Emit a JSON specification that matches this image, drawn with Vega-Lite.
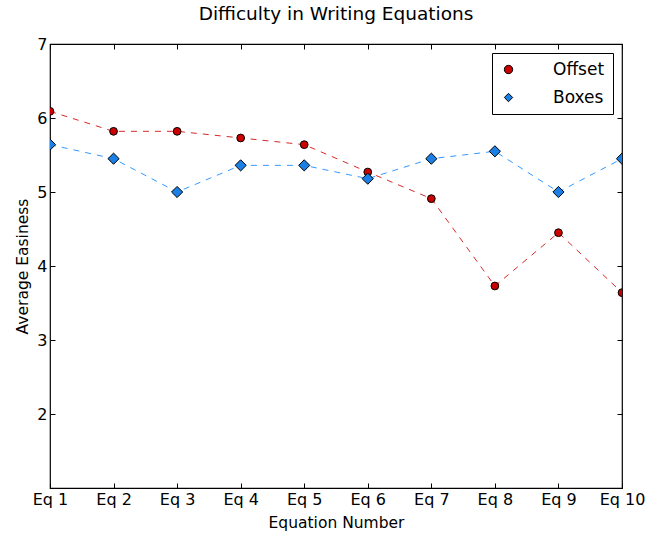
{
  "$schema": "https://vega.github.io/schema/vega-lite/v6.json",
  "width": 572,
  "height": 444,
  "autosize": "none",
  "padding": {"left": 50, "top": 44, "right": 39, "bottom": 45},
  "background": "white",
  "config": {
    "font": "DejaVu Sans",
    "view": {"stroke": "black", "strokeWidth": 1.2},
    "axis": {"grid": false, "domain": false, "tickColor": "black", "tickSize": -5, "labelColor": "black", "labelFontSize": 16, "titleFontSize": 15.5, "titleFontWeight": "normal", "titleColor": "black", "labelFont": "DejaVu Sans", "titleFont": "DejaVu Sans"}
  },
  "title": {"text": "Difficulty in Writing Equations", "fontSize": 18.5, "fontWeight": "normal", "font": "DejaVu Sans", "offset": 13, "color": "black"},
  "data": {"values": [
    {"eq": "Eq 1", "series": "Offset", "value": 6.09},
    {"eq": "Eq 2", "series": "Offset", "value": 5.82},
    {"eq": "Eq 3", "series": "Offset", "value": 5.82},
    {"eq": "Eq 4", "series": "Offset", "value": 5.73},
    {"eq": "Eq 5", "series": "Offset", "value": 5.64},
    {"eq": "Eq 6", "series": "Offset", "value": 5.27},
    {"eq": "Eq 7", "series": "Offset", "value": 4.91},
    {"eq": "Eq 8", "series": "Offset", "value": 3.73},
    {"eq": "Eq 9", "series": "Offset", "value": 4.45},
    {"eq": "Eq 10", "series": "Offset", "value": 3.64},
    {"eq": "Eq 1", "series": "Boxes", "value": 5.64},
    {"eq": "Eq 2", "series": "Boxes", "value": 5.45},
    {"eq": "Eq 3", "series": "Boxes", "value": 5.0},
    {"eq": "Eq 4", "series": "Boxes", "value": 5.36},
    {"eq": "Eq 5", "series": "Boxes", "value": 5.36},
    {"eq": "Eq 6", "series": "Boxes", "value": 5.18},
    {"eq": "Eq 7", "series": "Boxes", "value": 5.45},
    {"eq": "Eq 8", "series": "Boxes", "value": 5.55},
    {"eq": "Eq 9", "series": "Boxes", "value": 5.0},
    {"eq": "Eq 10", "series": "Boxes", "value": 5.45}
  ]},
  "resolve": {"axis": {"x": "independent", "y": "independent"}},
  "layer": [
    {
      "layer": [
        {
          "transform": [{"filter": "datum.series === 'Offset'"}],
          "mark": {"type": "line", "strokeDash": [6, 6], "strokeWidth": 1, "clip": true, "color": "#d42a2a"},
          "encoding": {}
        },
        {
          "transform": [{"filter": "datum.series === 'Boxes'"}],
          "mark": {"type": "line", "strokeDash": [6, 6], "strokeWidth": 1, "clip": true, "color": "#3399ff"},
          "encoding": {}
        },
        {
          "transform": [{"filter": "datum.series === 'Offset'"}],
          "mark": {"type": "point", "filled": true, "stroke": "black", "strokeWidth": 1, "opacity": 1, "clip": true, "size": 60},
          "encoding": {
            "color": {"field": "series", "type": "nominal", "scale": {"domain": ["Offset", "Boxes"], "range": ["#cc0000", "#1a80e6"]}, "legend": {"title": null, "orient": "top-right", "offset": 9, "strokeColor": "black", "fillColor": "white", "padding": 8, "labelFontSize": 17, "labelColor": "black", "symbolSize": 70, "symbolStrokeColor": "black", "symbolStrokeWidth": 1, "rowPadding": 10, "labelOffset": 36, "labelFont": "DejaVu Sans", "symbolOpacity": 1}},
            "shape": {"field": "series", "type": "nominal", "scale": {"domain": ["Offset", "Boxes"], "range": ["circle", "diamond"]}}
          }
        },
        {
          "transform": [{"filter": "datum.series === 'Boxes'"}],
          "mark": {"type": "point", "filled": true, "stroke": "black", "strokeWidth": 1, "opacity": 1, "clip": true, "size": 125},
          "encoding": {
            "color": {"field": "series", "type": "nominal"},
            "shape": {"field": "series", "type": "nominal"}
          }
        }
      ],
      "encoding": {
        "x": {"field": "eq", "type": "ordinal", "sort": null, "scale": {"type": "point", "padding": 0}, "axis": {"title": "Equation Number", "labelAngle": 0, "labelPadding": 8, "titlePadding": 8}},
        "y": {"field": "value", "type": "quantitative", "scale": {"domain": [1, 7], "nice": false}, "axis": {"title": "Average Easiness", "values": [2, 3, 4, 5, 6, 7], "labelPadding": 8, "titlePadding": 6}}
      }
    },
    {
      "mark": {"type": "point", "opacity": 0},
      "encoding": {
        "x": {"field": "eq", "type": "ordinal", "sort": null, "axis": {"orient": "top", "labels": false, "title": null}},
        "y": {"field": "value", "type": "quantitative", "axis": {"orient": "right", "labels": false, "title": null, "values": [2, 3, 4, 5, 6, 7]}}
      }
    }
  ]
}
